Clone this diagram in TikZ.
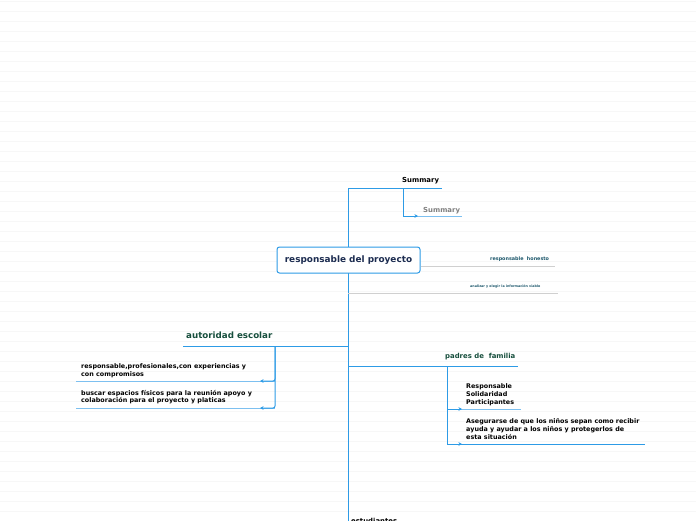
\documentclass[tikz,border=0pt]{standalone}
\usepackage{fontspec}
\setmainfont{DejaVu Sans}
\usetikzlibrary{arrows.meta,positioning,calc}
\definecolor{MapBlue}{RGB}{45,155,230}
\definecolor{SoftBlue}{RGB}{125,192,240}
\definecolor{RuleGray}{RGB}{247,247,247}
\definecolor{LineGray}{RGB}{208,208,208}
\definecolor{RootInk}{RGB}{28,44,80}
\definecolor{TopicInk}{RGB}{22,78,60}
\definecolor{TealInk}{RGB}{30,88,108}
\newcommand{\fsz}[2]{\fontsize{#1}{#2}\selectfont}

\begin{document}
\begin{tikzpicture}[x=1pt, y=-1pt,
  every node/.style={inner sep=0pt},
  mainline/.style={draw=MapBlue, line width=1pt},
  softline/.style={draw=SoftBlue, line width=1pt},
  grayline/.style={draw=LineGray, line width=1pt},
  leaf/.style={anchor=base west, align=left, font=\bfseries\fsz{6.4pt}{#1}},
  tip/.style={-{Stealth[length=3.5pt, width=3.5pt]}}]
\useasboundingbox (0,0) rectangle (696,520);
% ruled background
\foreach \y in {1,11,...,511}
  \draw[RuleGray, line width=0.8pt] (0,\y) -- (696,\y);

% anchor points of the map
\coordinate (top) at (348,188);
\coordinate (bot) at (348,540);
\coordinate (sumR) at (442,188);
\coordinate (sumK) at (403,188);
\coordinate (subL) at (403,216);
\coordinate (subA) at (418,216);
\coordinate (subR) at (462,216);
\coordinate (anaL) at (348,293);
\coordinate (anaR) at (558,293);
\coordinate (honR) at (555,266);
\coordinate (autL) at (183,346);
\coordinate (autK) at (275,346);
\coordinate (resA) at (260,381);
\coordinate (resL) at (76,381);
\coordinate (busA) at (260,408);
\coordinate (busL) at (76,408);
\coordinate (padR) at (518,366);
\coordinate (padK) at (447,366);
\coordinate (valA) at (462,409);
\coordinate (valR) at (521,409);
\coordinate (aseA) at (462,444);
\coordinate (aseR) at (645,444);

% trunk and branches
\draw[mainline] (top) -- (bot);
\draw[mainline] (top) -- (sumR);
\draw[softline] (subL) -- (subR);
\draw[mainline, tip] (sumK) |- (subA);
\draw[grayline] (anaL) -- (anaR);
\draw[mainline] (autL) -- (top |- autL);
\draw[softline] (resL) -- (autK |- resL);
\draw[softline] (busL) -- (autK |- busL);
\draw[mainline, tip, rounded corners=2pt] (autK) |- (resA);
\draw[mainline, tip, rounded corners=2pt] (autK) |- (busA);
\draw[mainline] (top |- padR) -- (padR);
\draw[softline] (padK |- valR) -- (valR);
\draw[mainline] (padK |- aseR) -- (aseR);
\draw[mainline, tip] (padK) |- (valA);
\draw[mainline, tip] (padK) |- (aseA);

% central topic
\node[draw=MapBlue, line width=1pt, fill=white, rounded corners=2.5pt,
  minimum width=143pt, minimum height=26pt, text=RootInk,
  font=\bfseries\fsz{8.9pt}{10pt}] (root) at (348.5,260) {responsable del proyecto};
\draw[grayline] (root.east |- honR) -- (honR);

% labels
\node[anchor=base west, font=\bfseries\fsz{6.9pt}{8pt}] (sum) at (402,182) {Summary};
\node[anchor=base west, text=gray, font=\bfseries\fsz{6.9pt}{8pt}] (sub) at (423,212) {Summary};
\node[anchor=base west, text=TealInk, font=\bfseries\fsz{4.85pt}{6pt}] (hon) at (490,260) {responsable\ \ honesto};
\node[anchor=base west, text=TealInk, font=\bfseries\fsz{3.3pt}{4pt}] (ana) at (470,287) {analizar y elegir la información viable};
\node[anchor=base west, text=TopicInk, font=\bfseries\fsz{8.7pt}{10pt}] (aut) at (186,338.5) {autoridad escolar};
\node[leaf=7.4pt] (res) at (81,376)
  {responsable,profesionales,con experiencias y\\con compromisos};
\node[leaf=7.4pt] (bus) at (81,402.7)
  {buscar espacios físicos para la reunión apoyo y\\colaboración para el proyecto y platicas};
\node[anchor=base west, text=TopicInk, font=\bfseries\fsz{6.9pt}{8pt}] (pad) at (445,358.5) {padres de\ \ familia};
\node[leaf=8pt] (val) at (466,404)
  {Responsable\\Solidaridad\\Participantes};
\node[leaf=8pt] (ase) at (466,439.3)
  {Asegurarse de que los niños sepan como recibir\\ayuda y ayudar a los niños y protegerlos de\\esta situación};
\node[anchor=base west, font=\bfseries\fsz{6.9pt}{8pt}] (est) at (351,523) {estudiantes};
\end{tikzpicture}
\end{document}
